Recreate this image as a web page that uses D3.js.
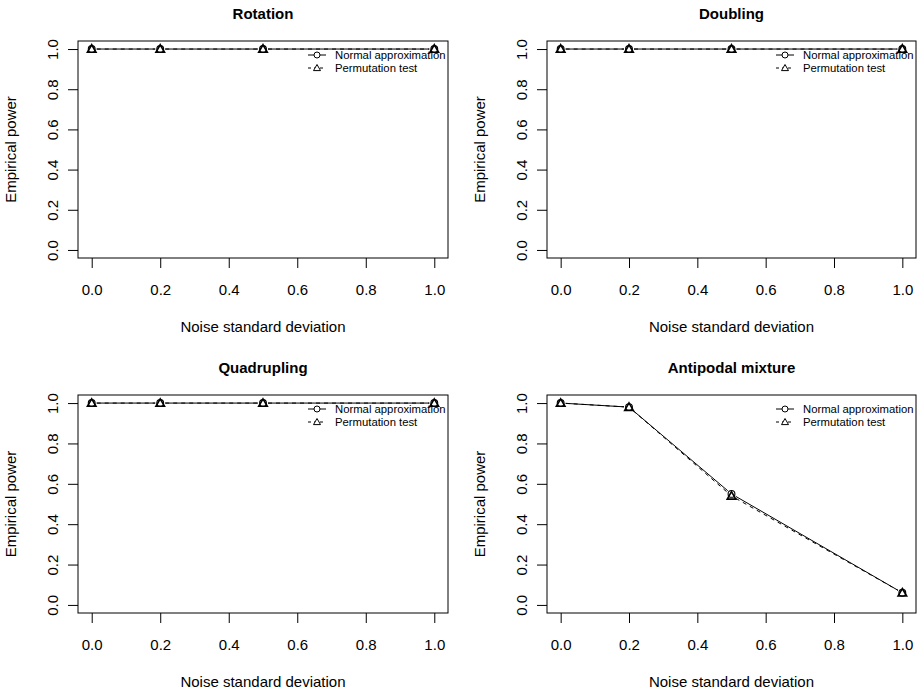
<!DOCTYPE html>
<html>
<head>
<meta charset="utf-8">
<script src="https://cdn.jsdelivr.net/npm/d3@7"></script>
<style>
  body { margin: 0; background: #fff; }
  svg { display: block; font-family: "Liberation Sans", Arial, Helvetica, sans-serif; }
</style>
</head>
<body>
<svg id="chart" width="924" height="692"></svg>
<script>
// data
const noiseSd = [0, 0.2, 0.5, 1.0];
const panelTitles = ['Rotation', 'Doubling', 'Quadrupling', 'Antipodal mixture'];
const normalPower = [
    [1, 1, 1, 1],
    [1, 1, 1, 1],
    [1, 1, 1, 1],
    [1, 0.98, 0.55, 0.06]
];
const permPower = [
    [1, 1, 1, 1],
    [1, 1, 1, 1],
    [1, 1, 1, 1],
    [1, 0.98, 0.54, 0.06]
];
const xTicks = [0, 0.2, 0.4, 0.6, 0.8, 1.0];
const yTicks = [0, 0.2, 0.4, 0.6, 0.8, 1.0];
const legendLabels = ['Normal approximation', 'Permutation test'];

// plot boxes (measured)
const boxes = [
    {x0: 78, x1: 448, y0: 41, y1: 258},
    {x0: 547, x1: 916, y0: 41, y1: 258},
    {x0: 78, x1: 448, y0: 395, y1: 613},
    {x0: 547, x1: 916, y0: 395, y1: 613}
];

const svg = d3.select('#chart');
const gap = 5;

function trimmedSegments(pts) {
    const segs = [];
    for (let i = 0; i < pts.length - 1; i++) {
        const [ax, ay] = pts[i], [bx, by] = pts[i + 1];
        const len = Math.hypot(bx - ax, by - ay);
        if (len <= 2 * gap) continue;
        const ux = (bx - ax) / len, uy = (by - ay) / len;
        segs.push([ax + ux * gap, ay + uy * gap, bx - ux * gap, by - uy * gap]);
    }
    return segs;
}

function circle(g, x, y) {
    g.append('circle').attr('cx', x).attr('cy', y).attr('r', 3.4)
        .attr('fill', 'none').attr('stroke', '#000').attr('stroke-width', 1.1);
}
function triangle(g, x, y) {
    const s = 4.3;
    g.append('path')
        .attr('d', `M${x},${y - s}L${x + s},${y + s * 0.75}L${x - s},${y + s * 0.75}Z`)
        .attr('fill', 'none').attr('stroke', '#000').attr('stroke-width', 1.6);
}

boxes.forEach((b, p) => {
    const g = svg.append('g');
    const pad = 0.04 * (b.x1 - b.x0) / 1.08;
    const padY = 0.04 * (b.y1 - b.y0) / 1.08;
    const x = d3.scaleLinear().domain([0, 1]).range([b.x0 + pad, b.x1 - pad]);
    const y = d3.scaleLinear().domain([0, 1]).range([b.y1 - padY, b.y0 + padY]);

    // box
    g.append('rect').attr('x', b.x0).attr('y', b.y0)
        .attr('width', b.x1 - b.x0).attr('height', b.y1 - b.y0)
        .attr('fill', 'none').attr('stroke', '#000').attr('stroke-width', 1);

    // x axis
    const xa = g.append('g').attr('transform', `translate(0,${b.y1})`)
        .call(d3.axisBottom(x).tickValues(xTicks).tickFormat(d3.format('.1f')).tickSize(10).tickPadding(16));
    xa.select('.domain').remove();
    xa.selectAll('text').attr('font-size', 15).attr('fill', '#000').attr('font-family', null);

    // y axis
    const ya = g.append('g').attr('transform', `translate(${b.x0},0)`)
        .call(d3.axisLeft(y).tickValues(yTicks).tickFormat(d3.format('.1f')).tickSize(10).tickPadding(0));
    ya.select('.domain').remove();
    ya.selectAll('text')
        .attr('font-size', 15).attr('fill', '#000').attr('font-family', null)
        .attr('text-anchor', 'middle').attr('x', null).attr('dy', null)
        .attr('transform', 'translate(-24,0) rotate(-90)')
        .attr('dominant-baseline', 'middle');

    // titles
    g.append('text').attr('x', (b.x0 + b.x1) / 2).attr('y', b.y0 - 22)
        .attr('text-anchor', 'middle').attr('font-size', 15).attr('font-weight', 'bold')
        .text(panelTitles[p]);
    g.append('text').attr('x', (b.x0 + b.x1) / 2).attr('y', b.y1 + 74)
        .attr('text-anchor', 'middle').attr('font-size', 15)
        .text('Noise standard deviation');
    g.append('text')
        .attr('transform', `translate(${b.x0 - 62},${(b.y0 + b.y1) / 2}) rotate(-90)`)
        .attr('text-anchor', 'middle').attr('font-size', 15)
        .text('Empirical power');

    // series
    const nPts = noiseSd.map((v, i) => [x(v), y(normalPower[p][i])]);
    const pPts = noiseSd.map((v, i) => [x(v), y(permPower[p][i])]);
    g.append('g').selectAll('line').data(trimmedSegments(nPts)).join('line')
        .attr('x1', d => d[0]).attr('y1', d => d[1]).attr('x2', d => d[2]).attr('y2', d => d[3])
        .attr('stroke', '#000').attr('stroke-width', 1);
    g.append('g').selectAll('line').data(trimmedSegments(pPts)).join('line')
        .attr('x1', d => d[0]).attr('y1', d => d[1]).attr('x2', d => d[2]).attr('y2', d => d[3])
        .attr('stroke', '#000').attr('stroke-width', 1).attr('stroke-dasharray', '4,4');
    nPts.forEach(d => circle(g, d[0], d[1]));
    pPts.forEach(d => triangle(g, d[0], d[1]));

    // legend
    const lg = g.append('g').attr('transform', `translate(${b.x1},${b.y0})`);
    [0, 1].forEach(i => {
        const ly = 14 + i * 13;
        lg.append('line').attr('x1', -140).attr('x2', -122).attr('y1', ly).attr('y2', ly)
            .attr('stroke', '#000').attr('stroke-width', 1)
            .attr('stroke-dasharray', i === 1 ? '3,3' : null);
        if (i === 0) {
            lg.append('circle').attr('cx', -131).attr('cy', ly).attr('r', 3)
                .attr('fill', '#fff').attr('stroke', '#000');
        } else {
            lg.append('path').attr('d', `M-131,${ly - 3.5}L-127.5,${ly + 2.6}L-134.5,${ly + 2.6}Z`)
                .attr('fill', '#fff').attr('stroke', '#000');
        }
        lg.append('text').attr('x', -113).attr('y', ly).attr('dy', '0.35em')
            .attr('font-size', 11.3).text(legendLabels[i]);
    });
});
</script>
</body>
</html>
